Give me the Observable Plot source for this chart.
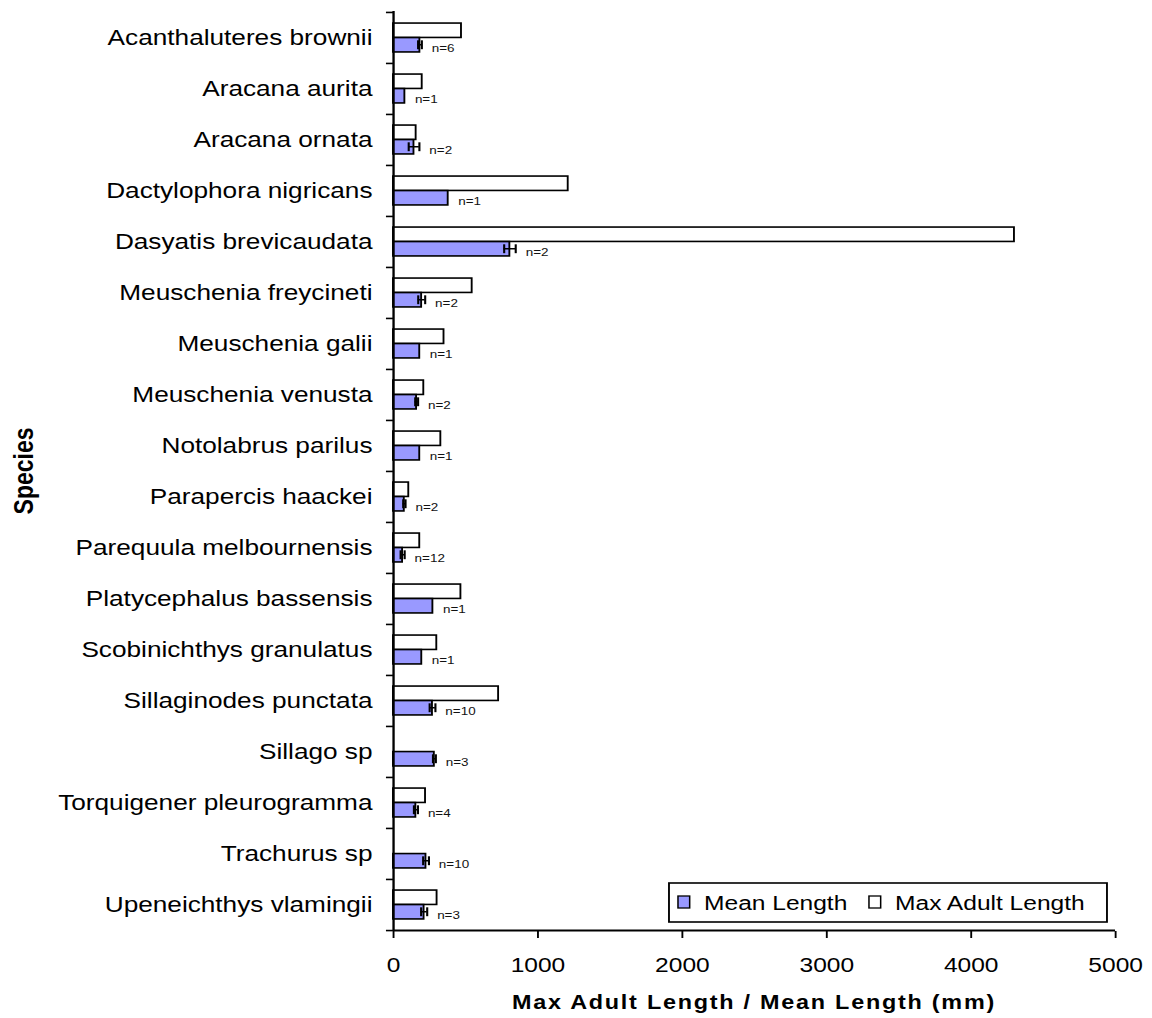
<!DOCTYPE html>
<html><head><meta charset="utf-8">
<script src="https://cdn.jsdelivr.net/npm/d3@7"></script>
<script src="https://cdn.jsdelivr.net/npm/@observablehq/plot@0.6"></script>
<style>
html,body{margin:0;padding:0;background:#fff;}
#chart{width:1152px;height:1018px;position:relative;}
#chart svg{display:block;}
</style></head><body><div id="chart"></div>
<script>
const species = ["Acanthaluteres brownii","Aracana aurita","Aracana ornata","Dactylophora nigricans","Dasyatis brevicaudata","Meuschenia freycineti","Meuschenia galii","Meuschenia venusta","Notolabrus parilus","Parapercis haackei","Parequula melbournensis","Platycephalus bassensis","Scobinichthys granulatus","Sillaginodes punctata","Sillago sp","Torquigener pleurogramma","Trachurus sp","Upeneichthys vlamingii"];
const maxAdult = [471,199,157,1210,4300,545,350,210,328,106,182,467,300,728,null,222,null,302];
const meanLen  = [183,79,142,379,806,195,182,160,182,75,63,273,196,270,283,155,225,212];
const meanErr  = [13,0,37,0,40,24,0,10,0,8,14,0,0,20,10,14,20,21];
const nCount   = [6,1,2,1,2,2,1,2,1,2,12,1,1,10,3,4,10,3];
const xTicks = [0,1000,2000,3000,4000,5000];
const seriesNames = ["Mean Length","Max Adult Length"];
const seriesColors = ["#9999ff","#ffffff"];
const xLabel = "Max Adult Length / Mean Length (mm)";
const yLabel = "Species";

const OUT_W = 1152, OUT_H = 1018;
const W = 985;               // drawing units, stretched horizontally to OUT_W
const mt = 11, mb = 87, ml = 336, mr = 31.6;
const bw = (OUT_H - mt - mb) / species.length;
const barH = 14.5;
const capH = 9;
const meanMid = bw / 2 + barH / 2;

const rows = species.map((s, i) => ({species: s, max: maxAdult[i], mean: meanLen[i], err: meanErr[i], n: nCount[i]}));
const maxRows = rows.filter(d => d.max != null);
const errRows = rows.filter(d => d.err > 0);
const last = species[species.length - 1];
const font = "'Liberation Sans', Arial, Helvetica, sans-serif";

const plot = Plot.plot({
  width: W, height: OUT_H,
  marginTop: mt, marginBottom: mb, marginLeft: ml, marginRight: mr,
  style: {fontFamily: font, color: "#000", background: "#fff"},
  x: {domain: [0, 5000]},
  y: {domain: species, padding: 0},
  marks: [
    Plot.barX(maxRows, {x: "max", y: "species", fill: seriesColors[1], stroke: "#000", strokeWidth: 1.6,
      insetTop: bw / 2 - barH, insetBottom: bw / 2}),
    Plot.barX(rows, {x: "mean", y: "species", fill: seriesColors[0], stroke: "#000", strokeWidth: 1.6,
      insetTop: bw / 2, insetBottom: bw / 2 - barH}),
    Plot.barX(errRows, {x1: d => d.mean - d.err, x2: d => d.mean + d.err, y: "species", fill: "#000",
      insetTop: meanMid - 0.8, insetBottom: bw - meanMid - 0.8}),
    Plot.tickX(errRows, {x: d => d.mean - d.err, y: "species", stroke: "#000", strokeWidth: 1.8,
      insetTop: meanMid - capH / 2, insetBottom: bw - meanMid - capH / 2}),
    Plot.tickX(errRows, {x: d => d.mean + d.err, y: "species", stroke: "#000", strokeWidth: 1.8,
      insetTop: meanMid - capH / 2, insetBottom: bw - meanMid - capH / 2}),
    Plot.text(rows, {x: d => d.mean + d.err, y: "species", text: d => "n=" + d.n, dx: 8.5, dy: 10.5,
      textAnchor: "start", fontSize: 11.5, fill: "#111"}),
    // y-axis boundary ticks
    Plot.ruleY(species, {y: d => d, x1: () => 0, x2: () => 0, insetLeft: -6, dy: -bw / 2, stroke: "#000", strokeWidth: 1.6}),
    Plot.ruleY([last], {y: d => d, x1: () => 0, x2: () => 0, insetLeft: -6, dy: bw / 2, stroke: "#000", strokeWidth: 1.6}),
    // axis lines
    Plot.ruleY([last], {y: d => d, x1: () => 0, x2: () => 5000, dy: bw / 2, stroke: "#000", strokeWidth: 2}),
    Plot.ruleX([0], {stroke: "#000", strokeWidth: 2}),
    Plot.axisY({tickSize: 0, tickPadding: 18, fontSize: 22.4, label: null}),
    Plot.axisX({ticks: xTicks, tickFormat: d => String(d), tickSize: 7, tickPadding: 18.7, fontSize: 21,
      label: null, strokeWidth: 1.6})
  ]
});

plot.setAttribute("width", OUT_W);
plot.setAttribute("height", OUT_H);
plot.setAttribute("preserveAspectRatio", "none");
plot.style.width = OUT_W + "px";
plot.style.height = OUT_H + "px";
plot.style.maxWidth = "none";

const svg = d3.select(plot);
// axis titles
svg.append("text")
  .attr("transform", `translate(28,${(mt + OUT_H - mb) / 2}) rotate(-90)`)
  .attr("text-anchor", "middle")
  .attr("font-family", font).attr("font-weight", "bold").attr("font-size", 23)
  .attr("fill", "#000").text(yLabel);
svg.append("text")
  .attr("x", (ml + W - mr) / 2).attr("y", 1009)
  .attr("text-anchor", "middle")
  .attr("font-family", font).attr("font-weight", "bold").attr("font-size", 20)
  .attr("letter-spacing", 1.5)
  .attr("fill", "#000").text(xLabel);
// legend
const lg = svg.append("g").attr("font-family", font).attr("font-size", 21).attr("fill", "#000")
  .attr("text-anchor", "start");
lg.append("rect").attr("x", 572).attr("y", 883).attr("width", 374.5).attr("height", 39)
  .attr("fill", "#fff").attr("stroke", "#000").attr("stroke-width", 1.6);
const legendItems = [{sx: 579.7, tx: 602}, {sx: 743, tx: 765.3}];
legendItems.forEach((it, i) => {
  lg.append("rect").attr("x", it.sx).attr("y", 896).attr("width", 10).attr("height", 12)
    .attr("fill", seriesColors[i]).attr("stroke", "#000").attr("stroke-width", 1.3);
  lg.append("text").attr("x", it.tx).attr("y", 910).attr("text-anchor", "start").text(seriesNames[i]);
});

document.getElementById("chart").appendChild(plot);
</script>
</body></html>
